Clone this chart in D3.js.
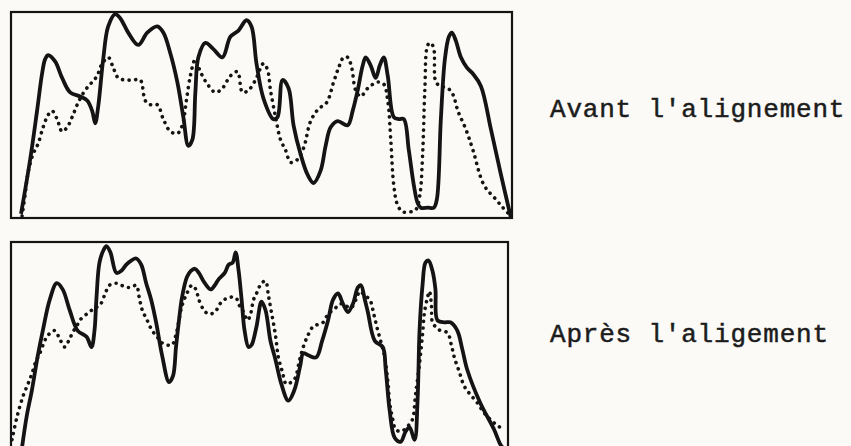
<!DOCTYPE html>
<html lang="fr">
<head>
  <meta charset="utf-8">
  <script src="https://d3js.org/d3.v7.min.js"></script>
  <style>
    body { margin: 0; background: #fbfaf7; }
    .label { font-family: "Liberation Mono", "DejaVu Sans Mono", monospace; font-size: 26px; fill: #1c1c1c; stroke: #1c1c1c; stroke-width: 0.5; }
  </style>
</head>
<body>
  <script type="text/javascript">
    // panel titles
    var labels = ["Avant l'alignement", "Après l'aligement"];

    // traces: [position, amplitude]
    var avantContinu = [[10,2],[19,28],[26,52],[31,70],[34,77],[37,79],[44,76],[51,68],[59,61],[69,59],[76,57],[81,52],[84,46],[87,54],[92,77],[97,93],[104,99],[109,97],[117,90],[127,84],[136,90],[146,93],[152,90],[159,80],[166,66],[172,49],[177,35],[181,38],[184,61],[187,78],[194,85],[202,82],[211,78],[219,88],[227,91],[235,96],[240,93],[245,75],[252,58],[262,48],[266,49],[271,67],[277,63],[282,45],[289,31],[296,21],[302,17],[309,23],[314,35],[319,44],[326,47],[336,45],[341,52],[346,62],[351,74],[354,78],[359,74],[364,68],[368,74],[372,78],[376,69],[382,49],[387,48],[392,48],[397,33],[402,16],[406,7],[409,5],[416,5],[422,5],[425,9],[429,48],[433,77],[437,88],[440,90],[444,86],[449,78],[455,73],[461,70],[469,64],[479,43],[489,21],[499,0]];
    var avantPointille = [[11,1],[14,11],[17,22],[22,31],[27,36],[32,44],[37,50],[41,52],[46,48],[51,42],[56,44],[61,49],[67,56],[74,62],[81,66],[86,69],[90,74],[97,78],[102,73],[107,68],[114,67],[122,67],[129,67],[134,57],[139,55],[146,55],[152,48],[159,42],[166,41],[171,45],[175,57],[179,69],[184,77],[189,71],[196,65],[204,61],[211,63],[219,69],[226,71],[231,61],[237,62],[244,67],[252,75],[256,72],[259,62],[264,49],[269,38],[274,33],[279,27],[285,28],[292,34],[299,47],[307,53],[315,56],[322,66],[327,73],[332,78],[336,78],[340,73],[344,62],[349,59],[356,63],[366,66],[372,65],[376,57],[379,38],[382,16],[386,6],[391,3],[399,3],[404,4],[408,11],[411,33],[413,62],[416,84],[419,85],[422,82],[424,66],[429,64],[436,63],[441,60],[446,52],[454,43],[461,33],[472,16],[484,9],[491,5],[499,1]];
    var apresContinu = [[11,0],[16,16],[21,28],[27,45],[32,57],[39,72],[46,80],[52,77],[59,67],[67,57],[76,54],[81,49],[84,57],[86,73],[89,90],[93,96],[96,98],[100,95],[106,85],[111,86],[116,89],[121,91],[126,92],[131,89],[136,80],[141,72],[146,61],[152,45],[159,32],[163,35],[166,49],[169,62],[172,73],[177,83],[181,86],[185,87],[189,85],[195,80],[201,77],[205,79],[209,82],[215,85],[219,89],[223,90],[226,95],[229,86],[232,72],[235,57],[239,49],[242,50],[247,59],[252,71],[256,67],[261,52],[266,43],[272,31],[279,23],[285,28],[291,40],[294,46],[299,45],[307,44],[313,52],[319,62],[324,72],[329,75],[334,70],[339,66],[344,70],[349,78],[352,79],[356,72],[359,66],[366,52],[374,49],[377,38],[381,18],[386,5],[392,3],[397,8],[401,10],[406,4],[409,23],[411,57],[414,79],[417,90],[420,91],[424,86],[427,77],[429,62],[436,61],[442,61],[449,57],[454,48],[459,38],[472,22],[486,9],[492,2],[495,0]];
    var apresPointille = [[1,4],[6,15],[12,25],[17,31],[21,36],[25,42],[29,46],[33,51],[36,54],[40,56],[44,57],[49,53],[54,49],[58,52],[62,56],[67,60],[71,63],[79,66],[84,68],[89,69],[94,74],[99,79],[106,80],[111,79],[116,78],[121,78],[126,79],[129,73],[132,67],[137,62],[142,57],[147,54],[152,51],[157,50],[162,50],[166,55],[169,62],[172,69],[176,74],[182,79],[186,77],[189,72],[194,67],[199,65],[205,66],[212,71],[219,73],[226,73],[230,69],[234,66],[238,62],[241,65],[244,72],[247,75],[252,80],[256,81],[259,74],[262,66],[266,55],[269,44],[273,37],[277,31],[282,32],[286,34],[290,42],[294,49],[299,55],[304,59],[309,60],[314,61],[319,65],[324,67],[329,69],[332,70],[337,69],[342,68],[347,72],[351,76],[356,74],[361,72],[365,65],[369,57],[373,50],[376,44],[379,33],[381,22],[384,14],[387,9],[392,8],[396,9],[400,11],[404,14],[407,26],[411,41],[414,55],[416,66],[419,73],[421,76],[423,69],[424,61],[429,58],[432,57],[439,56],[443,50],[446,44],[451,37],[456,30],[462,26],[469,22],[476,17],[482,14],[489,11],[496,9]];

    // setup dimensions
    var dim = {
      "width": 851,
      "height": 446,
      "ink": "#141414",
      "panels": [
        { "left": 11, "right": 512, "top": 12, "bottom": 218, "labelY": 117,
          "solid": avantContinu, "dotted": avantPointille },
        { "left": 11, "right": 508, "top": 242, "bottom": 448, "labelY": 342,
          "solid": apresContinu, "dotted": apresPointille }
      ]
    };

    var svg = d3.select("body")
      .append("svg")
      .attr("width", dim.width)
      .attr("height", dim.height);

    dim.panels.forEach(function(p, i) {
      var xScale = d3.scaleLinear()
        .domain([0, 500])
        .range([p.left, p.right]);

      var yScale = d3.scaleLinear()
        .domain([0, 100])
        .range([p.bottom, p.top]);

      var line = d3.line()
        .x(function(d) { return xScale(d[0]); })
        .y(function(d) { return yScale(d[1]); })
        .curve(d3.curveCatmullRom.alpha(0.5));

      // frame
      svg.append("rect")
        .attr("x", p.left)
        .attr("y", p.top)
        .attr("width", p.right - p.left)
        .attr("height", p.bottom - p.top)
        .attr("fill", "none")
        .attr("stroke", dim.ink)
        .attr("stroke-width", 2.2);

      // dotted trace
      svg.append("path")
        .datum(p.dotted)
        .attr("d", line)
        .attr("fill", "none")
        .attr("stroke", dim.ink)
        .attr("stroke-width", 3.6)
        .attr("stroke-linecap", "round")
        .attr("stroke-dasharray", "0.1 6.5");

      // solid trace
      svg.append("path")
        .datum(p.solid)
        .attr("d", line)
        .attr("fill", "none")
        .attr("stroke", dim.ink)
        .attr("stroke-width", 3.8)
        .attr("stroke-linejoin", "round");

      // label on the right
      svg.append("text")
        .attr("class", "label")
        .attr("x", 550)
        .attr("y", p.labelY)
        .attr("letter-spacing", 0.8)
        .text(labels[i]);
    });
  </script>
</body>
</html>
